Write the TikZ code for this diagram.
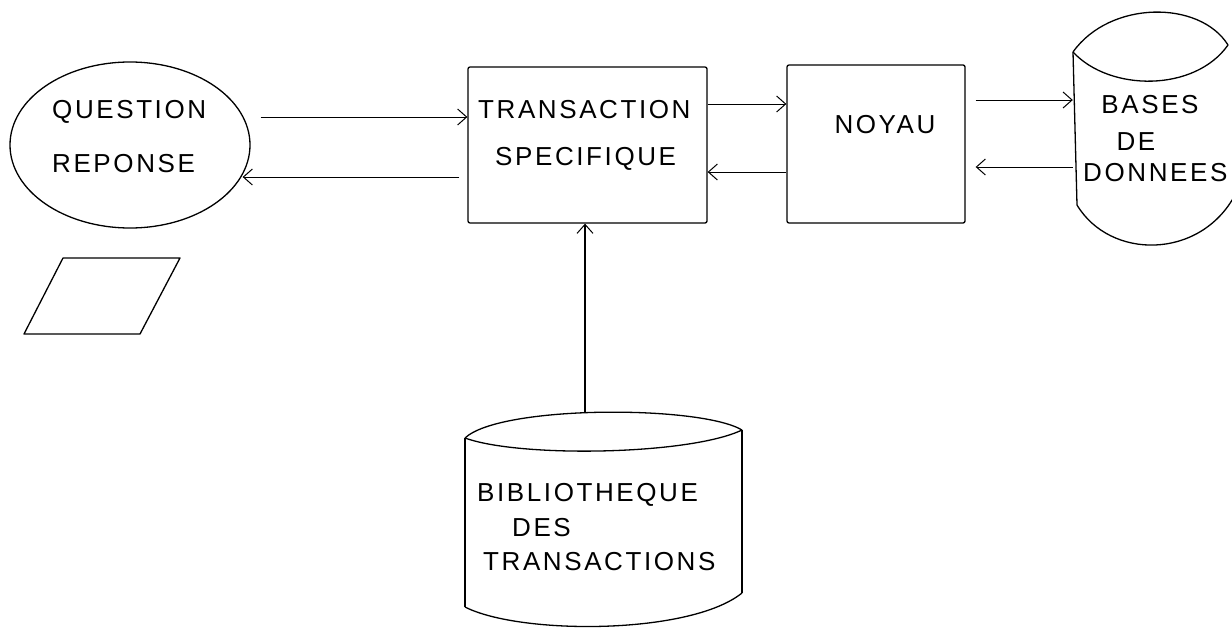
\documentclass[tikz,border=0pt]{standalone}
\usepackage{fontspec}
\setmainfont{Liberation Sans}[LetterSpace=10]
\usetikzlibrary{shapes.geometric,arrows.meta,calc}
\tikzset{
  lbl/.style={inner sep=0pt, font=\fontsize{26}{30}\selectfont},
  boxnode/.style={draw, line width=1.3pt, rectangle, rounded corners=2pt},
  bubble/.style={draw, ellipse, line width=1.3pt, minimum width=240pt, minimum height=166pt, inner sep=0pt},
  ghost/.style={rectangle, inner sep=0pt},
  shapeline/.style={line width=1.3pt},
  flow/.style={line width=1pt, -{Straight Barb[length=9pt,width=16pt,line width=1pt]}}
}
\begin{document}
\begin{tikzpicture}[x=1pt,y=-1pt]
\useasboundingbox (0,0) rectangle (1232,629);
% nodes
\node[bubble] (q) at (130,145) {};
\node[boxnode, minimum width=239pt, minimum height=156pt] (t) at (587.5,145) {};
\node[boxnode, minimum width=178pt, minimum height=158pt] (n) at (876,144) {};
\node[ghost, minimum width=156pt, minimum height=153pt] (b) at (1151,128.5) {};
\node[ghost, minimum width=277pt, minimum height=214pt] (lib) at (603.5,520) {};
% cylinder: bases de donnees
\draw[shapeline] (1073,52) .. controls (1110,0) and (1200,0) .. (1228,45);
\draw[shapeline] (1073,52) .. controls (1110,92) and (1195,92) .. (1228,45);
\draw[shapeline] (1073,52) -- (1077,205);
\draw[shapeline] (1077,205) .. controls (1110,260) and (1200,260) .. (1235,195);
% cylinder: bibliotheque
\draw[shapeline] (465,438) .. controls (500,405) and (700,405) .. (742,430);
\draw[shapeline] (465,438) .. controls (520,458) and (690,455) .. (742,430);
\draw[shapeline] (465,438) -- (465,607);
\draw[shapeline] (742,430) -- (742,593);
\draw[shapeline] (465,607) .. controls (520,635) and (690,635) .. (742,593);
% parallelogram
\draw[shapeline, line join=round] (63,258) -- (180,258) -- (140,334) -- (24,334) -- cycle;
% texts
\node[lbl, anchor=west] (q1) at (52,112) {QUESTION};
\node[lbl, anchor=west] (q2) at (52,164) {REPONSE};
\node[lbl, anchor=west] (t1) at (478,110) {TRANSACTION};
\node[lbl, anchor=west] (t2) at (495,159) {SPECIFIQUE};
\node[lbl] (n1) at (885,125) {NOYAU};
\node[lbl] (b1) at (1150,105) {BASES};
\node[lbl] (b2) at (1136,142) {DE};
\node[lbl, anchor=west] (b3) at (1083,173) {DONNEES};
\node[lbl, anchor=west] (l1) at (477,495) {BIBLIOTHEQUE};
\node[lbl, anchor=west] (l2) at (512,528) {DES};
\node[lbl, anchor=west] (l3) at (483,562) {TRANSACTIONS};
% connectors
\draw[flow] ($(q.east)+(10,-28)$) -- ($(t.west)+(0,-28)$);
\draw[flow] ($(t.west)+(-8,32)$) -- ($(q.east)+(-8,32)$);
\draw[flow] ($(t.east)+(0,-41)$) -- ($(n.west)+(0,-40)$);
\draw[flow] ($(n.west)+(0,28)$) -- ($(t.east)+(0,27)$);
\draw[flow] ($(n.east)+(10,-44)$) -- ($(b.west)+(0,-28.5)$);
\draw[flow] ($(b.west)+(0,38.5)$) -- ($(n.east)+(10,23)$);
\draw[flow, line width=1.5pt] ($(lib.north)+(-18.5,0)$) -- ($(t.south)+(-2.5,0)$);
\end{tikzpicture}
\end{document}
